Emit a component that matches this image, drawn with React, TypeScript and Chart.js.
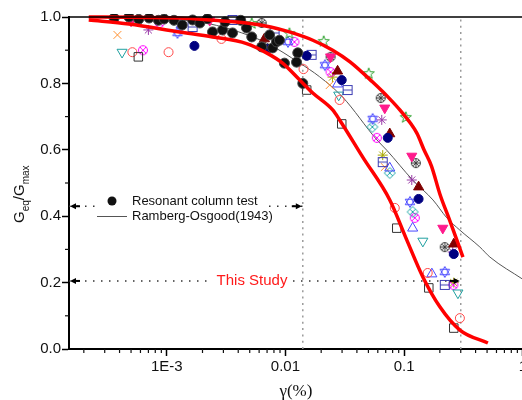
import React, { useEffect, useRef } from "react";
import { Chart, registerables } from "chart.js";
Chart.register(...registerables);

type P = [number, number];

const X_MIN = 1.5e-4;
const X_MAX = 1;
const xMajorValues = [0.001, 0.01, 0.1, 1];
const xMajorLabels = ["1E-3", "0.01", "0.1", "1"];
const xMinorMultipliers = [2, 3, 4, 5, 6, 7, 8, 9];
const Y_MIN = 0;
const Y_MAX = 1;
const Y_STEP = 0.2;
const yMinorTicks = [0.1, 0.3, 0.5, 0.7, 0.9];

// Red bounding curves ("This Study")
const upperBound: P[] = [
  [2.2e-4, 1.0], [5e-4, 0.999], [1.28e-3, 0.997], [2.5e-3, 0.99], [4.7e-3, 0.982],
  [7.5e-3, 0.97], [0.0108, 0.955], [0.017, 0.93], [0.025, 0.9], [0.035, 0.865],
  [0.0543, 0.804], [0.075, 0.755], [0.092, 0.72], [0.128, 0.65], [0.147, 0.6],
  [0.17, 0.551], [0.2, 0.467], [0.243, 0.386], [0.313, 0.277],
];
const lowerBound: P[] = [
  [2.2e-4, 0.991], [4.8e-4, 0.979], [1.28e-3, 0.955], [2.43e-3, 0.94], [4.7e-3, 0.92],
  [6.93e-3, 0.892], [9.46e-3, 0.861], [0.0132, 0.81], [0.017, 0.771], [0.025, 0.72],
  [0.0286, 0.69], [0.0448, 0.578], [0.0757, 0.449], [0.1054, 0.328], [0.1438, 0.217],
  [0.2, 0.127], [0.295, 0.057], [0.508, 0.018],
];
const rambergOsgood: P[] = [
  [3e-4, 0.998], [1e-3, 0.993], [1.9e-3, 0.985], [3.6e-3, 0.961], [6.9e-3, 0.922],
  [0.0132, 0.861], [0.0194, 0.82], [0.0303, 0.759], [0.0589, 0.63], [0.0713, 0.599],
  [0.118, 0.509], [0.175, 0.449], [0.229, 0.395], [0.295, 0.358], [0.435, 0.307],
  [0.528, 0.277], [1.0, 0.21],
];

// Scatter series
const resonantColumn: P[] = [
  [3.6e-4, 0.997], [4.8e-4, 1.0], [5.8e-4, 0.993], [7.1e-4, 0.997], [8.5e-4, 0.99],
  [9.5e-4, 0.994], [1.15e-3, 0.99], [1.35e-3, 0.976], [1.65e-3, 0.991], [1.9e-3, 0.982],
  [2.2e-3, 0.995], [2.43e-3, 0.955], [2.95e-3, 0.961], [3.1e-3, 0.985], [3.58e-3, 0.952],
  [4.2e-3, 0.99], [4.7e-3, 0.967], [5.2e-3, 0.94], [6.3e-3, 0.91], [7.35e-3, 0.946],
  [7.8e-3, 0.907], [8.4e-3, 0.925], [8.9e-3, 0.93], [9.8e-3, 0.861], [0.0127, 0.892],
  [0.0124, 0.864], [0.014, 0.8],
];
const navyCircles: P[] = [
  [1.71e-3, 0.913], [7.06e-3, 0.904], [0.0151, 0.883], [0.0298, 0.81], [0.0728, 0.636],
  [0.1324, 0.452], [0.262, 0.286],
];
const maroonTriangles: P[] = [
  [6.65e-3, 0.934], [0.0275, 0.837], [0.0757, 0.648], [0.1324, 0.488], [0.262, 0.316],
];
const pinkDownTriangles: P[] = [
  [5.0e-4, 0.988], [2.3e-3, 0.99], [0.024, 0.88], [0.0687, 0.726], [0.116, 0.581], [0.2117, 0.364],
];
const greenStars: P[] = [
  [5.2e-3, 0.982], [0.0108, 0.952], [0.021, 0.928], [0.0503, 0.831], [0.1033, 0.699],
];
const greyCircleStars: P[] = [
  [6.3e-3, 0.982], [0.024, 0.88], [0.0635, 0.756], [0.1256, 0.56], [0.2197, 0.307],
];
const blueBarSquares: P[] = [
  [1.65e-3, 0.97], [3.58e-3, 0.991], [8.1e-3, 0.952], [0.0166, 0.886], [0.0334, 0.78],
  [0.066, 0.563], [0.22, 0.193],
];
const blackSquares: P[] = [
  [5.76e-4, 0.88], [0.0151, 0.78], [0.0298, 0.678], [0.0867, 0.364], [0.1614, 0.184], [0.262, 0.063],
];
const redCircles: P[] = [
  [5.13e-4, 0.894], [1.035e-3, 0.894], [2.89e-3, 0.934], [0.0142, 0.843], [0.0286, 0.75],
  [0.0834, 0.425], [0.158, 0.229], [0.295, 0.093],
];
const tealDownTriangles: P[] = [
  [4.2e-4, 0.894], [0.0281, 0.765], [0.1438, 0.325], [0.284, 0.169],
];
const blueUpTriangles: P[] = [
  [1.32e-3, 0.976], [0.0275, 0.798], [0.0757, 0.545], [0.118, 0.364], [0.1713, 0.226],
];
const orangeCrosses: P[] = [
  [3.84e-4, 0.946], [0.0236, 0.795], [0.0687, 0.548],
];
const purpleAsterisks: P[] = [
  [7.0e-4, 0.961], [0.0648, 0.69], [0.116, 0.509], [0.257, 0.292],
];
const blueHexagrams: P[] = [
  [1.23e-3, 0.952], [0.0105, 0.925], [0.0215, 0.855], [0.0543, 0.693], [0.112, 0.443], [0.22, 0.232],
];
const tealDiamonds: P[] = [
  [0.054, 0.669], [0.0757, 0.53], [0.118, 0.413],
];
const magentaCircleX: P[] = [
  [6.3e-4, 0.9], [8.7e-4, 0.982], [0.0119, 0.925], [0.024, 0.834], [0.0589, 0.636],
  [0.123, 0.395], [0.26, 0.193],
];
const oliveAsterisks: P[] = [
  [0.0249, 0.819], [0.066, 0.584], [0.262, 0.2],
];

// Reference dotted lines
const refVerticalX = [0.014, 0.3];
const refHorizontalY = [0.43, 0.205];
const refHorizontalEnd = [0.014, 0.3];

const SANS = '"Liberation Sans", Arial, sans-serif';

function mk(size: number, draw: (c: CanvasRenderingContext2D, s: number) => void) {
  const cv = document.createElement("canvas");
  cv.width = size;
  cv.height = size;
  const c = cv.getContext("2d")!;
  draw(c, size);
  return cv;
}

const pts = (d: P[]) => d.map(([x, y]) => ({ x, y }));

export default function App() {
  const ref = useRef<HTMLCanvasElement | null>(null);

  useEffect(() => {
    if (!ref.current) return;

    const star5 = mk(14, (c, s) => {
      c.strokeStyle = "#2ca02c";
      c.lineWidth = 1;
      c.beginPath();
      for (let i = 0; i < 10; i++) {
        const r = i % 2 ? 2.4 : 5.8;
        const a = -Math.PI / 2 + (i * Math.PI) / 5;
        const px = s / 2 + r * Math.cos(a);
        const py = s / 2 + 0.6 + r * Math.sin(a);
        if (i) c.lineTo(px, py);
        else c.moveTo(px, py);
      }
      c.closePath();
      c.stroke();
    });
    const circleStar = mk(12, (c, s) => {
      c.strokeStyle = "#333";
      c.lineWidth = 1;
      c.beginPath();
      c.arc(s / 2, s / 2, 4.5, 0, Math.PI * 2);
      c.stroke();
      c.beginPath();
      for (let i = 0; i < 4; i++) {
        const a = (i * Math.PI) / 4;
        c.moveTo(s / 2 + 4 * Math.cos(a), s / 2 + 4 * Math.sin(a));
        c.lineTo(s / 2 - 4 * Math.cos(a), s / 2 - 4 * Math.sin(a));
      }
      c.stroke();
    });
    const barSquare = mk(12, (c, s) => {
      c.strokeStyle = "#3c3cb4";
      c.lineWidth = 1;
      c.strokeRect(1.5, 1.5, 9, 9);
      c.beginPath();
      c.moveTo(1.5, s / 2);
      c.lineTo(10.5, s / 2);
      c.stroke();
    });
    const hexagram = mk(14, (c, s) => {
      c.strokeStyle = "#4a4aff";
      c.lineWidth = 1;
      for (const dir of [1, -1]) {
        c.beginPath();
        for (let i = 0; i < 3; i++) {
          const a = -Math.PI / 2 * dir + (i * 2 * Math.PI) / 3;
          const px = s / 2 + 5.5 * Math.cos(a);
          const py = s / 2 + 5.5 * Math.sin(a);
          if (i) c.lineTo(px, py);
          else c.moveTo(px, py);
        }
        c.closePath();
        c.stroke();
      }
    });
    const circleX = mk(12, (c, s) => {
      c.strokeStyle = "#ff00ff";
      c.lineWidth = 1;
      c.beginPath();
      c.arc(s / 2, s / 2, 4.5, 0, Math.PI * 2);
      c.stroke();
      c.beginPath();
      c.moveTo(s / 2 - 3.2, s / 2 - 3.2);
      c.lineTo(s / 2 + 3.2, s / 2 + 3.2);
      c.moveTo(s / 2 + 3.2, s / 2 - 3.2);
      c.lineTo(s / 2 - 3.2, s / 2 + 3.2);
      c.stroke();
    });
    const diamondX = mk(14, (c, s) => {
      c.strokeStyle = "#20a8a8";
      c.lineWidth = 1;
      c.beginPath();
      c.moveTo(s / 2, 1.5);
      c.lineTo(s - 1.5, s / 2);
      c.lineTo(s / 2, s - 1.5);
      c.lineTo(1.5, s / 2);
      c.closePath();
      c.moveTo(s / 2 - 3, s / 2 - 3);
      c.lineTo(s / 2 + 3, s / 2 + 3);
      c.moveTo(s / 2 + 3, s / 2 - 3);
      c.lineTo(s / 2 - 3, s / 2 + 3);
      c.stroke();
    });

    const scatter = (data: P[], extra: any) => ({
      type: "scatter",
      data: pts(data),
      showLine: false,
      order: 3,
      clip: 3,
      pointBorderWidth: 1,
      ...extra,
    });
    const curve = (data: P[], color: string, width: number, order: number) => ({
      type: "line",
      data: pts(data),
      borderColor: color,
      borderWidth: width,
      pointRadius: 0,
      fill: false,
      cubicInterpolationMode: "monotone",
      order,
      clip: 3,
    });
    const dotted = (data: P[], color: string, dash: number[], width: number) => ({
      type: "line",
      data: pts(data),
      borderColor: color,
      borderWidth: width,
      borderDash: dash,
      pointRadius: 0,
      fill: false,
      order: 5,
    });

    const datasets: any[] = [
      ...refVerticalX.map((x) => dotted([[x, Y_MIN], [x, Y_MAX]], "#9a9a9a", [2, 4.3], 1.5)),
      ...refHorizontalY.map((y, i) => dotted([[X_MIN, y], [refHorizontalEnd[i], y]], "#333", [1.5, 6.5], 1.5)),
      curve(rambergOsgood, "#555", 1, 4),
      scatter(resonantColumn, { pointStyle: "circle", pointRadius: 5, backgroundColor: "#111", borderColor: "#444" }),
      scatter(navyCircles, { pointStyle: "circle", pointRadius: 4.5, backgroundColor: "#000080", borderColor: "#000080" }),
      scatter(maroonTriangles, { pointStyle: "triangle", pointRadius: 5.8, backgroundColor: "#800000", borderColor: "#800000" }),
      scatter(pinkDownTriangles, { pointStyle: "triangle", rotation: 180, pointRadius: 5.8, backgroundColor: "#ff1a8c", borderColor: "#ff1a8c" }),
      scatter(greenStars, { pointStyle: star5, pointRadius: 6 }),
      scatter(greyCircleStars, { pointStyle: circleStar, pointRadius: 5 }),
      scatter(blueBarSquares, { pointStyle: barSquare, pointRadius: 5 }),
      scatter(blackSquares, { pointStyle: "rect", pointRadius: 6, backgroundColor: "rgba(0,0,0,0)", borderColor: "#333" }),
      scatter(redCircles, { pointStyle: "circle", pointRadius: 4.5, backgroundColor: "rgba(0,0,0,0)", borderColor: "#ff4848" }),
      scatter(tealDownTriangles, { pointStyle: "triangle", rotation: 180, pointRadius: 5.8, backgroundColor: "rgba(0,0,0,0)", borderColor: "#20a0a0" }),
      scatter(blueUpTriangles, { pointStyle: "triangle", pointRadius: 5.8, backgroundColor: "rgba(0,0,0,0)", borderColor: "#4848ff" }),
      scatter(orangeCrosses, { pointStyle: "crossRot", pointRadius: 5.5, borderColor: "#ff9030" }),
      scatter(purpleAsterisks, { pointStyle: "star", pointRadius: 5, borderColor: "#9a3aa8" }),
      scatter(blueHexagrams, { pointStyle: hexagram, pointRadius: 6 }),
      scatter(tealDiamonds, { pointStyle: diamondX, pointRadius: 6 }),
      scatter(magentaCircleX, { pointStyle: circleX, pointRadius: 5 }),
      scatter(oliveAsterisks, { pointStyle: "star", pointRadius: 5, borderColor: "#a8a800" }),
      curve(upperBound, "#ff0000", 3.5, 1),
      curve(lowerBound, "#ff0000", 3.5, 1),
    ];

    const isMajor = (v: number) => {
      const l = Math.log10(v);
      return Math.abs(l - Math.round(l)) < 1e-6;
    };

    const decor = {
      id: "decor",
      afterDraw(chart: any) {
        const { ctx, chartArea: a, scales } = chart;
        const xs = scales.x;
        const ys = scales.y;
        ctx.save();
        // top frame line
        ctx.strokeStyle = "#000";
        ctx.lineWidth = 1.5;
        ctx.beginPath();
        ctx.moveTo(a.left, a.top);
        ctx.lineTo(a.right + 4, a.top);
        ctx.stroke();
        // minor ticks
        ctx.lineWidth = 1.2;
        ctx.strokeStyle = "#111";
        for (let e = -4; e <= 0; e++) {
          for (const m of xMinorMultipliers) {
            const v = m * Math.pow(10, e);
            if (v < X_MIN || v > X_MAX) continue;
            const px = xs.getPixelForValue(v);
            ctx.beginPath();
            ctx.moveTo(px, a.bottom);
            ctx.lineTo(px, a.bottom + 4);
            ctx.stroke();
          }
        }
        for (const v of yMinorTicks) {
          const py = ys.getPixelForValue(v);
          ctx.beginPath();
          ctx.moveTo(a.left, py);
          ctx.lineTo(a.left - 4, py);
          ctx.stroke();
        }
        // arrows on horizontal reference lines
        ctx.fillStyle = "#000";
        refHorizontalY.forEach((yv, i) => {
          const py = ys.getPixelForValue(yv);
          const l = a.left + 1;
          ctx.beginPath();
          ctx.moveTo(l, py);
          ctx.lineTo(l + 6, py - 3);
          ctx.lineTo(l + 6, py + 3);
          ctx.closePath();
          ctx.fill();
          ctx.fillRect(l + 5, py - 1, 5, 2);
          const r = xs.getPixelForValue(refHorizontalEnd[i]) - 1;
          ctx.beginPath();
          ctx.moveTo(r, py);
          ctx.lineTo(r - 6, py - 3);
          ctx.lineTo(r - 6, py + 3);
          ctx.closePath();
          ctx.fill();
          ctx.fillRect(r - 10, py - 1, 5, 2);
        });
        // legend
        ctx.fillStyle = "#fff";
        ctx.fillRect(99, 193, 170, 31);
        ctx.fillStyle = "#111";
        ctx.beginPath();
        ctx.arc(112, 201, 4.5, 0, Math.PI * 2);
        ctx.fill();
        ctx.strokeStyle = "#555";
        ctx.lineWidth = 1;
        ctx.beginPath();
        ctx.moveTo(97, 216.5);
        ctx.lineTo(127, 216.5);
        ctx.stroke();
        ctx.font = `13px ${SANS}`;
        ctx.textBaseline = "middle";
        ctx.textAlign = "left";
        ctx.fillStyle = "#111";
        ctx.fillText("Resonant column test", 132, 201);
        ctx.fillText("Ramberg-Osgood(1943)", 132, 216);
        // This Study
        ctx.font = `15px ${SANS}`;
        const tw = ctx.measureText("This Study").width;
        ctx.fillStyle = "#fff";
        ctx.fillRect(252 - tw / 2 - 4, 273, tw + 8, 16);
        ctx.fillStyle = "#ff1a1a";
        ctx.textAlign = "center";
        ctx.fillText("This Study", 252, 281);
        // y title with subscripts
        ctx.translate(24, 223);
        ctx.rotate(-Math.PI / 2);
        ctx.fillStyle = "#111";
        ctx.textAlign = "left";
        ctx.textBaseline = "alphabetic";
        const big = `15px ${SANS}`;
        const small = `10px ${SANS}`;
        let x = 0;
        const put = (t: string, f: string, dy: number) => {
          ctx.font = f;
          ctx.fillText(t, x, dy);
          x += ctx.measureText(t).width;
        };
        put("G", big, 0);
        put("eq", small, 5);
        put("/G", big, 0);
        put("max", small, 5);
        ctx.restore();
      },
    };

    const chart = new Chart(ref.current, {
      type: "scatter",
      data: { datasets },
      options: {
        animation: false,
        responsive: false,
        devicePixelRatio: 1,
        layout: { padding: { left: 0, top: 17, right: 22.2, bottom: 0 } },
        plugins: { legend: { display: false }, tooltip: { enabled: false } },
        scales: {
          x: {
            type: "logarithmic",
            min: X_MIN,
            max: X_MAX,
            afterFit: (s: any) => {
              s.height = 51;
            },
            border: { display: true, color: "#000", width: 2 },
            grid: {
              display: true,
              drawOnChartArea: false,
              drawTicks: true,
              tickLength: 7,
              tickWidth: 1.5,
              tickColor: (c: any) => (c.tick && isMajor(c.tick.value) ? "#000" : "rgba(0,0,0,0)"),
            },
            ticks: {
              autoSkip: false,
              maxRotation: 0,
              minRotation: 0,
              padding: 2,
              color: "#111",
              font: { size: 15, family: SANS },
              callback: (v: any) => {
                const i = xMajorValues.findIndex((m) => Math.abs(Math.log10(m) - Math.log10(Number(v))) < 1e-6);
                return i >= 0 ? xMajorLabels[i] : "";
              },
            },
            title: {
              display: true,
              text: "γ(%)",
              color: "#111",
              font: { size: 17, family: '"Liberation Serif", "Times New Roman", serif' },
              padding: { top: 0, bottom: -2 },
            },
          },
          y: {
            type: "linear",
            min: Y_MIN,
            max: Y_MAX,
            afterFit: (s: any) => {
              s.width = 69;
            },
            border: { display: true, color: "#000", width: 2 },
            grid: { display: true, drawOnChartArea: false, tickLength: 7, tickWidth: 1.5, tickColor: "#000" },
            ticks: {
              stepSize: Y_STEP,
              padding: 1,
              color: "#111",
              font: { size: 15, family: SANS },
              callback: (v: any) => Number(v).toFixed(1),
            },
          },
        },
      },
      plugins: [decor],
    } as any);

    return () => chart.destroy();
  }, []);

  return (
    <div style={{ position: "fixed", left: 0, top: 0, width: 522, height: 400, overflow: "hidden", background: "#fff" }}>
      <canvas ref={ref} width={545} height={400} style={{ display: "block", width: 545, height: 400 }} />
    </div>
  );
}
